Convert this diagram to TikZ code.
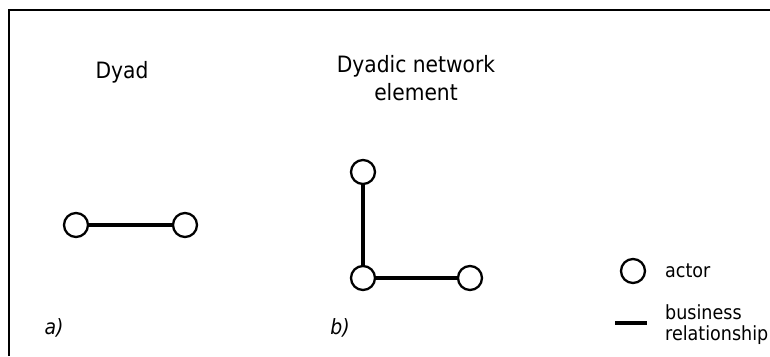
\documentclass[tikz,border=0pt]{standalone}
\usepackage{fontspec}
\setmainfont{DejaVu Sans Condensed}

\tikzset{
  actor/.style={circle, draw, line width=2.3pt, minimum size=24pt, inner sep=0pt, fill=white},
  rel/.style={line width=4pt},
  title/.style={font=\fontsize{22.5}{28}\selectfont, align=center},
  legtext/.style={font=\fontsize{19.5}{21}\selectfont, align=left, anchor=west, inner sep=0pt},
  panel/.style={font=\fontsize{21}{24}\selectfont\itshape}
}

\begin{document}
\begin{tikzpicture}[x=1pt,y=1pt]
  \useasboundingbox (0,0) rectangle (770,356);
  \draw[line width=1.2pt] (9,0) -- (9,346) -- (770,346);

  % a) the dyad
  \node[title] (tdyad) at (122,284) {Dyad};
  \draw[rel] (76,131) -- (185,131);
  \node[actor] (a1) at (76,131) {};
  \node[actor] (a2) at (185,131) {};
  \node[panel] (la) at (54,28) {a)};

  % b) dyadic network element
  \node[title] (tnet) at (416,278) {Dyadic network\\element};
  \node[actor] (b1) at (363,184) {};
  \node[actor] (b2) at (363,78) {};
  \node[actor] (b3) at (470,78) {};
  \draw[rel] (b1) -- (b2);
  \draw[rel] (b2) -- (b3);
  \node[panel] (lb) at (340,28) {b)};

  % legend
  \node[actor] (lact) at (633,85) {};
  \node[legtext] (tact) at (665,85) {actor};
  \coordinate (r1) at (615,33);
  \coordinate (r2) at (647,33);
  \draw[rel] (r1) -- (r2);
  \node[legtext] (trel) at (665,31.5) {business\\relationship};
\end{tikzpicture}
\end{document}
